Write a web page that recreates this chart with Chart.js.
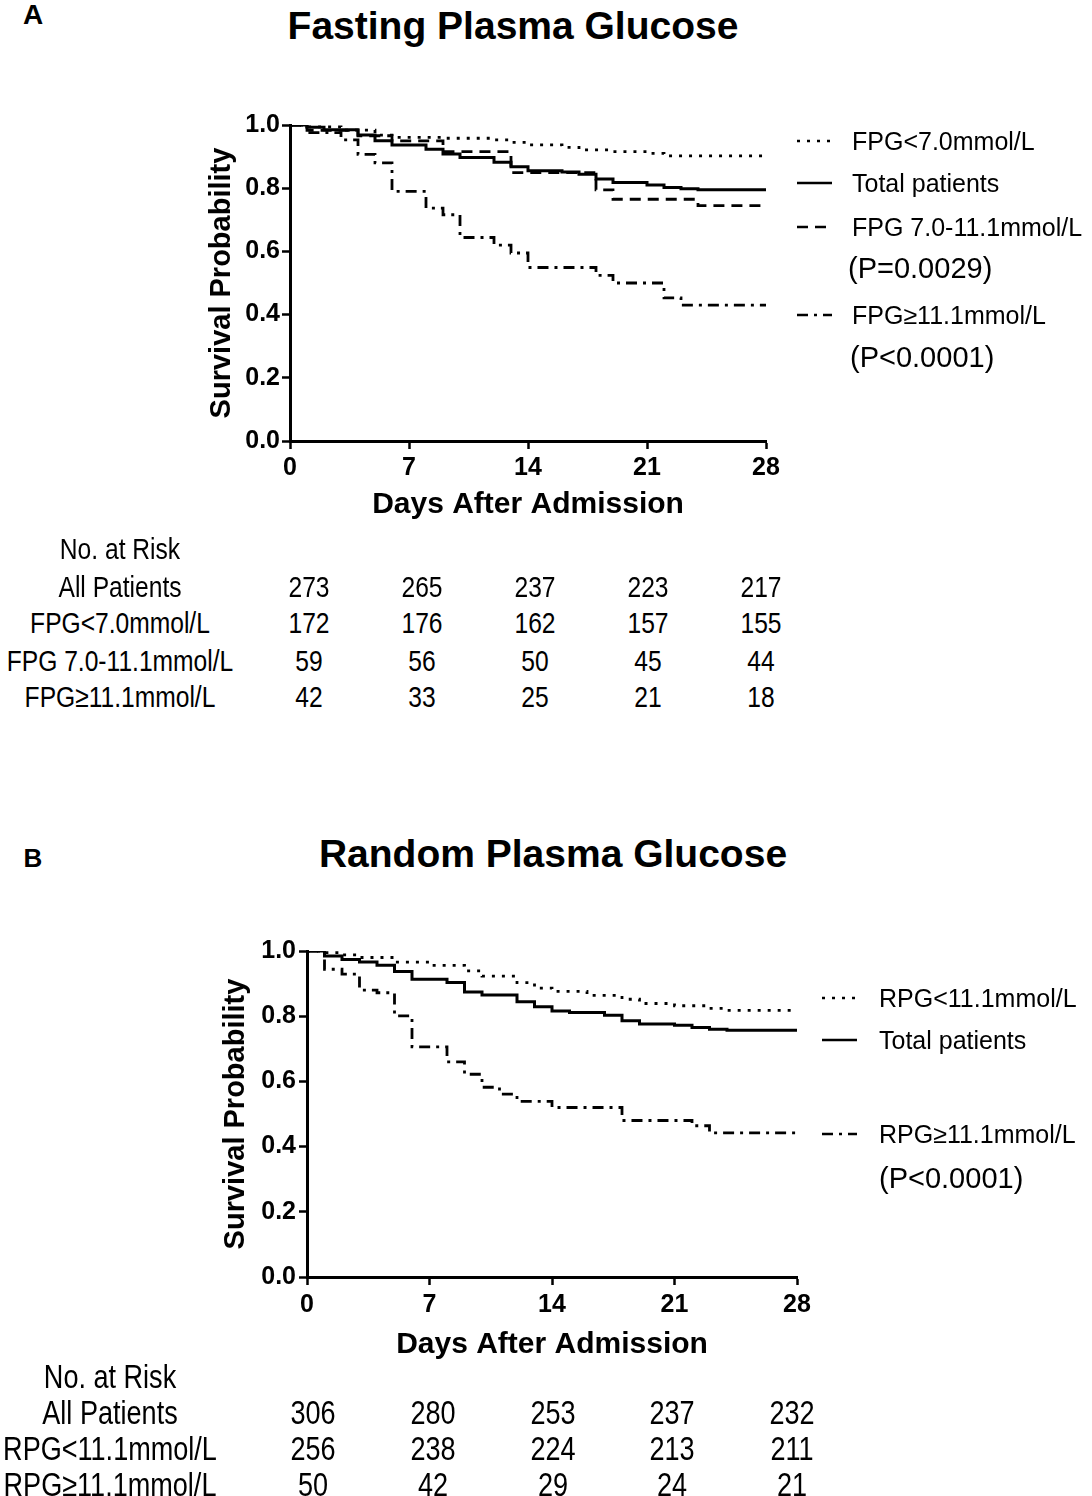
<!DOCTYPE html>
<html>
<head>
<meta charset="utf-8">
<script src="https://cdn.jsdelivr.net/npm/chart.js@4.4.0/dist/chart.umd.min.js"></script>
<style>
html, body { margin: 0; padding: 0; background: #fff; }
body { width: 1092px; height: 1496px; position: relative; overflow: hidden; color: #000;
       font-family: "Liberation Sans", Arial, sans-serif; }
.t { position: absolute; white-space: nowrap; line-height: 1; }
.wrap { position: absolute; }
</style>
</head>
<body>
<div class="wrap" style="left:0;top:95px;width:800px;height:440px"><canvas id="chartA"></canvas></div>
<div class="wrap" style="left:0;top:925px;width:830px;height:440px"><canvas id="chartB"></canvas></div>
<script>
// tick values
var dayTicks = [0, 7, 14, 21, 28];
var probTicks = [0, 0.2, 0.4, 0.6, 0.8, 1.0];

// Panel A - fasting plasma glucose (step curves: day of drop, survival after drop)
var totalDaysA = [0, 1, 2, 4, 5, 6, 8, 9, 10, 12, 13, 14, 16, 17, 18, 19, 21, 22, 23, 24, 28];
var totalSurvA = [1, 0.993, 0.985, 0.968, 0.95, 0.937, 0.923, 0.908, 0.897, 0.882, 0.868, 0.855, 0.851, 0.844, 0.829, 0.818, 0.81, 0.802, 0.798, 0.795, 0.795];
var lowDaysA = [0, 1, 3, 5, 6, 9, 12, 13, 14, 16, 17, 19, 21, 22, 28];
var lowSurvA = [1, 0.994, 0.984, 0.968, 0.961, 0.958, 0.953, 0.945, 0.937, 0.929, 0.921, 0.916, 0.91, 0.902, 0.902];
var midDaysA = [0, 1, 4, 6, 9, 13, 18, 19, 24, 28];
var midSurvA = [1, 0.983, 0.966, 0.95, 0.916, 0.849, 0.795, 0.765, 0.745, 0.745];
var highDaysA = [0, 1, 3, 4, 5, 6, 8, 9, 10, 12, 13, 14, 18, 19, 22, 23, 28];
var highSurvA = [1, 0.976, 0.953, 0.907, 0.88, 0.79, 0.737, 0.716, 0.644, 0.62, 0.595, 0.549, 0.524, 0.5, 0.453, 0.43, 0.43];

// Panel B - random plasma glucose
var totalDaysB = [0, 1, 2, 3, 4, 5, 6, 8, 9, 10, 12, 13, 14, 15, 17, 18, 19, 21, 22, 23, 24, 28];
var totalSurvB = [1, 0.985, 0.974, 0.966, 0.956, 0.937, 0.913, 0.903, 0.874, 0.865, 0.844, 0.829, 0.816, 0.811, 0.803, 0.786, 0.776, 0.772, 0.765, 0.76, 0.757, 0.757];
var lowDaysB = [0, 1, 2, 3, 5, 7, 9, 10, 12, 13, 14, 16, 18, 19, 21, 23, 24, 28];
var lowSurvB = [1, 0.995, 0.988, 0.98, 0.966, 0.956, 0.939, 0.923, 0.903, 0.886, 0.876, 0.864, 0.852, 0.839, 0.832, 0.824, 0.818, 0.818];
var highDaysB = [0, 1, 2, 3, 4, 5, 6, 8, 9, 10, 11, 12, 14, 18, 22, 23, 28];
var highSurvB = [1, 0.944, 0.929, 0.88, 0.872, 0.801, 0.706, 0.66, 0.622, 0.582, 0.561, 0.539, 0.52, 0.48, 0.464, 0.442, 0.442];

// legend text
var legendA = ['FPG<7.0mmol/L', 'Total patients', 'FPG 7.0-11.1mmol/L', 'FPG\u226511.1mmol/L'];
var pValuesA = ['(P=0.0029)', '(P<0.0001)'];
var legendB = ['RPG<11.1mmol/L', 'Total patients', 'RPG\u226511.1mmol/L'];
var pValuesB = ['(P<0.0001)'];

// numbers at risk
var riskLabelsA = ['All Patients', 'FPG<7.0mmol/L', 'FPG 7.0-11.1mmol/L', 'FPG\u226511.1mmol/L'];
var riskA = [
  [273, 265, 237, 223, 217],
  [172, 176, 162, 157, 155],
  [59, 56, 50, 45, 44],
  [42, 33, 25, 21, 18]
];
var riskLabelsB = ['All Patients', 'RPG<11.1mmol/L', 'RPG\u226511.1mmol/L'];
var riskB = [
  [306, 280, 253, 237, 232],
  [256, 238, 224, 213, 211],
  [50, 42, 29, 24, 21]
];

// line styles
var DOT = [3, 7], DASH = [11, 7], DASHDOT = [11, 6, 3, 6], SOLID = [];
var FONT = '"Liberation Sans", Arial, sans-serif';

function hasFont(name) {
  var c = document.createElement('canvas').getContext('2d');
  c.font = '40px monospace';
  var w0 = c.measureText('All Patients 273').width;
  c.font = '40px "' + name + '", monospace';
  return c.measureText('All Patients 273').width !== w0;
}
var narrowOk = hasFont('Liberation Sans Narrow');
var NARROW = narrowOk ? '"Liberation Sans Narrow", ' + FONT : FONT;
var NARROW_SX = narrowOk ? 1 : 0.82;

function put(txt, x, y, size, o) {
  o = o || {};
  var d = document.createElement('div');
  d.className = 't';
  d.textContent = txt;
  d.style.fontSize = size + 'px';
  d.style.left = x + 'px';
  d.style.top = y + 'px';
  if (o.bold) d.style.fontWeight = 'bold';
  if (o.family) d.style.fontFamily = o.family;
  var align = o.align || 'left';
  var sx = o.sx || 1;
  d.style.transformOrigin = align === 'center' ? '50% 50%' : (align === 'right' ? '100% 50%' : '0 50%');
  var tx = align === 'center' ? '-50%' : (align === 'right' ? '-100%' : '0');
  d.style.transform = 'translate(' + tx + ',-50%) scaleX(' + sx + ')';
  document.body.appendChild(d);
}

function sample(x1, x2, y, dash) {
  var ns = 'http://www.w3.org/2000/svg';
  var s = document.createElementNS(ns, 'svg');
  s.setAttribute('width', x2 - x1);
  s.setAttribute('height', 6);
  s.style.position = 'absolute';
  s.style.left = x1 + 'px';
  s.style.top = (y - 3) + 'px';
  var l = document.createElementNS(ns, 'line');
  l.setAttribute('x1', 0); l.setAttribute('x2', x2 - x1);
  l.setAttribute('y1', 3); l.setAttribute('y2', 3);
  l.setAttribute('stroke', '#000');
  l.setAttribute('stroke-width', 2.5);
  if (dash.length) l.setAttribute('stroke-dasharray', dash.join(' '));
  s.appendChild(l);
  document.body.appendChild(s);
}

function pts(days, surv) {
  return days.map(function (d, i) { return { x: d, y: surv[i] }; });
}

function series(label, days, surv, dash, w) {
  return {
    label: label, data: pts(days, surv), stepped: 'before',
    borderColor: '#000', borderWidth: w || 2.8, borderDash: dash,
    pointRadius: 0, fill: false, borderCapStyle: 'butt'
  };
}

function makeChart(id, sets, g) {
  new Chart(document.getElementById(id), {
    type: 'line',
    data: { datasets: sets },
    options: {
      responsive: true, maintainAspectRatio: false, animation: false,
      layout: { padding: { left: g.padLeft, right: g.padRight, top: g.padTop, bottom: 0 } },
      plugins: { legend: { display: false }, tooltip: { enabled: false } },
      scales: {
        x: {
          type: 'linear', min: 0, max: 28,
          afterBuildTicks: function (s) { s.ticks = dayTicks.map(function (v) { return { value: v }; }); },
          afterFit: function (s) { s.height = g.xH; },
          border: { color: '#000', width: 3 },
          grid: { drawOnChartArea: false, drawTicks: true, tickLength: 8, tickColor: '#000', tickWidth: 2.5 },
          ticks: { color: '#000', padding: g.xTickPad, maxRotation: 0, autoSkip: false,
                   font: { family: FONT, size: 25, weight: 'bold' } },
          title: { display: true, text: 'Days After Admission', color: '#000',
                   font: { family: FONT, size: 30, weight: 'bold' }, padding: { top: 0, bottom: g.xTitlePad } }
        },
        y: {
          type: 'linear', min: 0, max: 1,
          afterBuildTicks: function (s) { s.ticks = probTicks.map(function (v) { return { value: v }; }); },
          afterFit: function (s) { s.width = g.yW; },
          border: { color: '#000', width: 3 },
          grid: { drawOnChartArea: false, drawTicks: true, tickLength: 8, tickColor: '#000', tickWidth: 2.5 },
          ticks: { color: '#000', padding: g.yTickPad, callback: function (v) { return v.toFixed(1); },
                   font: { family: FONT, size: 25, weight: 'bold' } },
          title: { display: true, text: 'Survival Probability', color: '#000',
                   font: { family: FONT, size: 29, weight: 'bold' }, padding: { top: 5, bottom: 0 } }
        }
      }
    }
  });
}

// Panel A
makeChart('chartA', [
  series(legendA[0], lowDaysA, lowSurvA, DOT),
  series(legendA[1], totalDaysA, totalSurvA, SOLID, 3),
  series(legendA[2], midDaysA, midSurvA, DASH),
  series(legendA[3], highDaysA, highSurvA, DASHDOT)
], { padLeft: 200, padRight: 34, padTop: 30, yW: 90, xH: 94, xTickPad: 4, xTitlePad: 12, yTickPad: 2 });

// Panel B
makeChart('chartB', [
  series(legendB[0], lowDaysB, lowSurvB, DOT),
  series(legendB[1], totalDaysB, totalSurvB, SOLID, 3),
  series(legendB[2], highDaysB, highSurvB, DASHDOT)
], { padLeft: 214, padRight: 33, padTop: 26, yW: 93, xH: 88, xTickPad: 5, xTitlePad: 2, yTickPad: 3 });

// headings
put('A', 33, 15, 28, { bold: true, align: 'center' });
put('Fasting Plasma Glucose', 513, 25, 39, { bold: true, align: 'center' });
put('B', 33, 858, 26, { bold: true, align: 'center' });
put('Random Plasma Glucose', 553, 853, 39, { bold: true, align: 'center' });

// legend A
var legDashA = [DOT, SOLID, DASH, DASHDOT];
var legRowsA = [141, 183, 227, 315];
legendA.forEach(function (txt, i) {
  sample(797, 832, legRowsA[i], legDashA[i]);
  put(txt, 852, legRowsA[i], 25);
});
put(pValuesA[0], 848, 268, 29);
put(pValuesA[1], 850, 357, 29);

// legend B
var legDashB = [DOT, SOLID, DASHDOT];
var legRowsB = [998, 1040, 1134];
legendB.forEach(function (txt, i) {
  sample(822, 857, legRowsB[i], legDashB[i]);
  put(txt, 879, legRowsB[i], 25);
});
put(pValuesB[0], 879, 1178, 29);

// risk tables
function riskTable(labels, rows, labelX, colX, rowY, size) {
  var o = { align: 'center', family: NARROW, sx: NARROW_SX };
  put('No. at Risk', labelX, rowY[0], size, o);
  labels.forEach(function (lab, i) {
    put(lab, labelX, rowY[i + 1], size, o);
    rows[i].forEach(function (n, j) { put(String(n), colX[j], rowY[i + 1], size, o); });
  });
}
riskTable(riskLabelsA, riskA, 120, [309, 422, 535, 648, 761], [549, 587, 623, 661, 697], 30);
riskTable(riskLabelsB, riskB, 110, [313, 433, 553, 672, 792], [1376, 1412, 1448, 1484], 33);
</script>
</body>
</html>
